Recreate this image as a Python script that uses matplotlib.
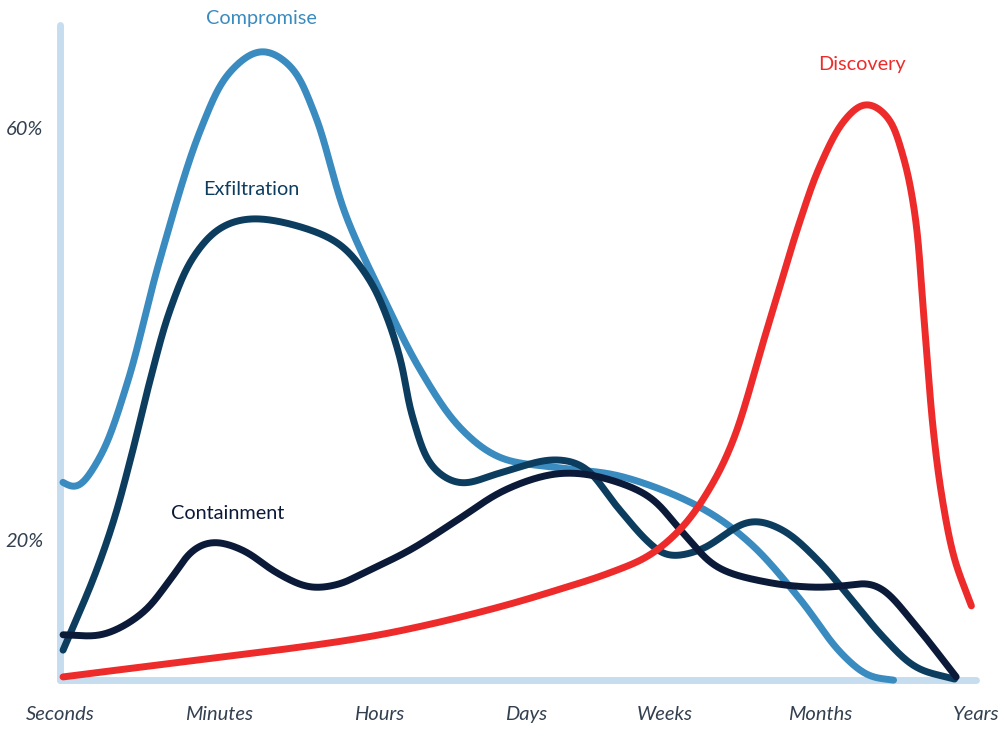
import numpy as np
import matplotlib
matplotlib.use("Agg")
import matplotlib.pyplot as plt

# ---------------- data ----------------
categories = ["Seconds", "Minutes", "Hours", "Days", "Weeks", "Months", "Years"]
category_pos = [0.0, 1.04, 2.09, 3.05, 3.96, 4.98, 6.0]
ytick_vals = [20, 60]
ytick_labels = ["20%", "60%"]

compromise_x = [0.02, 0.10, 0.26, 0.44, 0.65, 0.92, 1.11, 1.32, 1.51, 1.67, 1.87, 2.10, 2.36,
                2.62, 2.88, 3.27, 3.67, 4.19, 4.52, 4.85, 5.11, 5.30, 5.46]
compromise_y = [25.6, 25.0, 28.0, 35.2, 47.0, 59.8, 65.4, 67.5, 66.0, 61.3, 51.6, 44.1, 36.5,
                30.9, 28.0, 27.0, 26.2, 23.2, 19.7, 14.2, 9.1, 6.8, 6.4]

exfiltration_x = [0.02, 0.22, 0.35, 0.47, 0.59, 0.72, 0.87, 1.05, 1.26, 1.64, 1.85, 2.03,
                  2.14, 2.23, 2.31, 2.44, 2.62, 2.88, 3.23, 3.43, 3.65, 3.86, 3.98, 4.19, 4.52,
                  4.73, 4.96, 5.17, 5.39, 5.61, 5.86]
exfiltration_y = [9.3, 16.3, 21.8, 28.3, 35.5, 42.3, 47.4, 50.3, 51.2, 50.1, 48.5, 45.2,
                  41.7, 37.5, 31.9, 27.1, 25.5, 26.5, 27.8, 27.1, 23.2, 19.7, 18.5, 19.0, 21.8,
                  21.0, 18.1, 14.5, 10.6, 7.6, 6.5]

containment_x = [0.02, 0.28, 0.54, 0.72, 0.87, 1.00, 1.20, 1.42, 1.64, 1.85, 1.96, 2.29, 2.62,
                 2.88, 3.14, 3.32, 3.54, 3.86, 4.08, 4.30, 4.63, 4.96, 5.17, 5.28, 5.39, 5.61, 5.87]
containment_y = [10.8, 10.8, 12.9, 16.1, 19.0, 19.8, 19.0, 16.8, 15.4, 15.8, 16.6, 19.0, 22.1,
                 24.6, 26.1, 26.5, 26.1, 24.2, 20.7, 17.4, 15.9, 15.4, 15.6, 15.8, 15.2, 11.6, 6.7]

discovery_x = [0.02, 1.90, 2.36, 2.88, 3.27, 3.60, 3.86, 4.08, 4.26, 4.41, 4.63, 4.85, 4.98,
               5.14, 5.28, 5.42, 5.52, 5.60, 5.66, 5.72, 5.78, 5.86, 5.97]
discovery_y = [6.7, 10.3, 11.6, 13.5, 15.2, 16.8, 18.5, 21.3, 25.1, 29.7, 40.4, 51.1, 56.4,
               60.8, 62.4, 61.1, 57.4, 51.6, 41.4, 30.7, 23.9, 18.1, 13.6]

series_names = ["Compromise", "Exfiltration", "Containment", "Discovery"]

# ---------------- styling ----------------
C_COMP = "#3a8bbf"
C_EXF = "#0c3d5f"
C_CON = "#0b1a38"
C_DIS = "#ee2b2b"
C_AXIS = "#c6ddf0"
C_TICK = "#33404f"

plt.rcParams["font.family"] = ["Lato", "DejaVu Sans"]

fig = plt.figure(figsize=(10, 7.29), dpi=100)
ax = fig.add_axes([0.06, 0.0672, 0.916, 0.8985])
ax.set_xlim(0, 6)
ax.set_ylim(6.4, 70)
for s in ax.spines.values():
    s.set_visible(False)


def smooth(ax, xs, ys, n=40, alpha=0.5, sigma=7.0):
    """Centripetal Catmull-Rom through the points, then a light Gaussian
    smoothing along arc length (all in display space)."""
    P = ax.transData.transform(np.column_stack([xs, ys]))
    P = np.vstack([2 * P[0] - P[1], P, 2 * P[-1] - P[-2]])
    out = []
    for i in range(1, len(P) - 2):
        p0, p1, p2, p3 = P[i - 1], P[i], P[i + 1], P[i + 2]
        t0 = 0.0
        t1 = t0 + max(np.linalg.norm(p1 - p0), 1e-6) ** alpha
        t2 = t1 + max(np.linalg.norm(p2 - p1), 1e-6) ** alpha
        t3 = t2 + max(np.linalg.norm(p3 - p2), 1e-6) ** alpha
        t = np.linspace(t1, t2, n)[:, None]
        A1 = (t1 - t) / (t1 - t0) * p0 + (t - t0) / (t1 - t0) * p1
        A2 = (t2 - t) / (t2 - t1) * p1 + (t - t1) / (t2 - t1) * p2
        A3 = (t3 - t) / (t3 - t2) * p2 + (t - t2) / (t3 - t2) * p3
        B1 = (t2 - t) / (t2 - t0) * A1 + (t - t0) / (t2 - t0) * A2
        B2 = (t3 - t) / (t3 - t1) * A2 + (t - t1) / (t3 - t1) * A3
        C = (t2 - t) / (t2 - t1) * B1 + (t - t1) / (t2 - t1) * B2
        out.append(C if i == 1 else C[1:])
    D = np.vstack(out)
    seg = np.hypot(*np.diff(D, axis=0).T)
    s = np.concatenate([[0], np.cumsum(seg)])
    u = np.linspace(0, s[-1], int(s[-1]) + 2)
    X = np.interp(u, s, D[:, 0])
    Y = np.interp(u, s, D[:, 1])
    k = int(4 * sigma)
    g = np.exp(-0.5 * (np.arange(-k, k + 1) / sigma) ** 2)
    g /= g.sum()

    def ext(a):
        h0 = a[1] - a[0]
        h1 = a[-1] - a[-2]
        pre = a[0] - h0 * np.arange(k, 0, -1)
        post = a[-1] + h1 * np.arange(1, k + 1)
        return np.concatenate([pre, a, post])

    Xs = np.convolve(ext(X), g, mode="valid")
    Ys = np.convolve(ext(Y), g, mode="valid")
    Q = ax.transData.inverted().transform(np.column_stack([Xs, Ys]))
    return Q[:, 0], Q[:, 1]


# axis lines (light blue, rounded)
ax.axvline(0, color=C_AXIS, lw=5, solid_capstyle="round", clip_on=False, zorder=1)
ax.axhline(6.4, color=C_AXIS, lw=5, solid_capstyle="round", clip_on=False, zorder=1)

lw = 5
for xs, ys, c, z in [(compromise_x, compromise_y, C_COMP, 2),
                     (exfiltration_x, exfiltration_y, C_EXF, 3),
                     (containment_x, containment_y, C_CON, 4),
                     (discovery_x, discovery_y, C_DIS, 5)]:
    sx, sy = smooth(ax, xs, ys)
    ax.plot(sx, sy, color=c, lw=lw, solid_capstyle="round", zorder=z, clip_on=False)

# ticks
ax.set_xticks(category_pos)
ax.set_xticklabels(categories, fontsize=14.5, style="italic", fontweight="normal", color=C_TICK)
ax.set_yticks(ytick_vals)
ax.set_yticklabels(ytick_labels, fontsize=14.5, style="italic", fontweight="normal", color=C_TICK)
ax.tick_params(axis="both", length=0)
ax.tick_params(axis="x", pad=19)
ax.tick_params(axis="y", pad=12)

# series labels
lab_kw = dict(ha="center", va="center", fontsize=14.3, clip_on=False)
ax.text(1.32, 70.6, series_names[0], color=C_COMP, **lab_kw)
ax.text(1.25, 54.0, series_names[1], color=C_EXF, **lab_kw)
ax.text(1.10, 22.6, series_names[2], color=C_CON, **lab_kw)
ax.text(5.25, 66.2, series_names[3], color=C_DIS, **lab_kw)

fig.savefig("out.png", dpi=100, facecolor="white")
